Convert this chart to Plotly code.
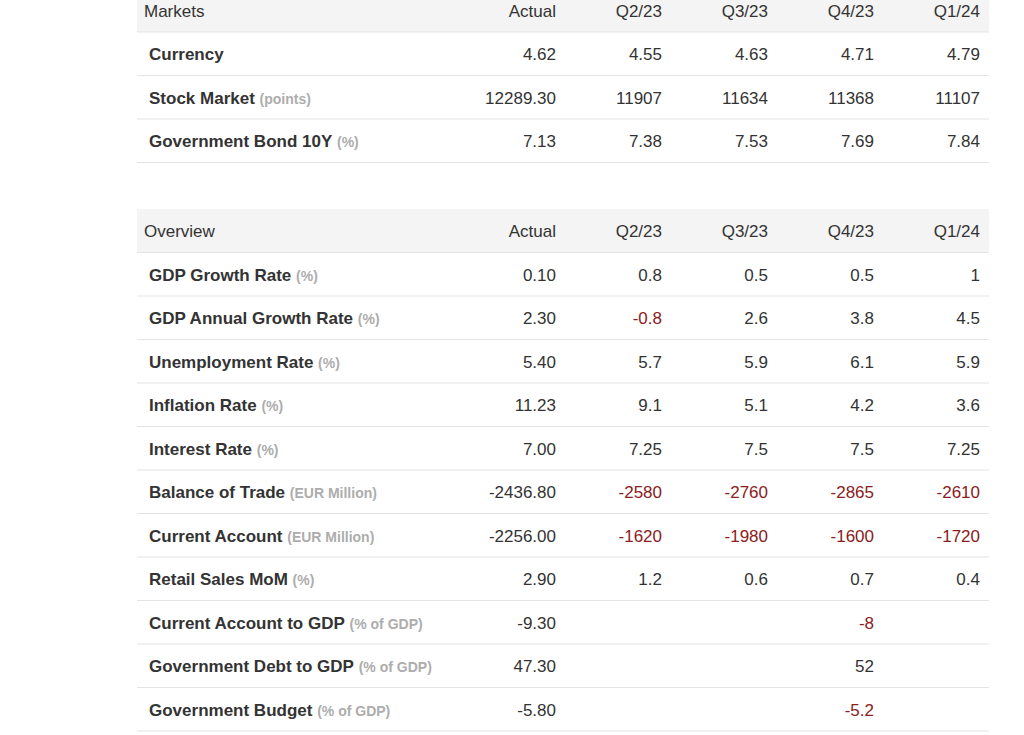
import plotly.graph_objects as go

# ---------------- data ----------------
col_headers = ["Actual", "Q2/23", "Q3/23", "Q4/23", "Q1/24"]

markets_title = "Markets"
markets_names = ["Currency", "Stock Market", "Government Bond 10Y"]
markets_units = ["", "points", "%"]
markets_actual = [4.62, 12289.30, 7.13]
markets_q2_23 = [4.55, 11907, 7.38]
markets_q3_23 = [4.63, 11634, 7.53]
markets_q4_23 = [4.71, 11368, 7.69]
markets_q1_24 = [4.79, 11107, 7.84]

overview_title = "Overview"
overview_names = ["GDP Growth Rate", "GDP Annual Growth Rate", "Unemployment Rate",
                  "Inflation Rate", "Interest Rate", "Balance of Trade", "Current Account",
                  "Retail Sales MoM", "Current Account to GDP", "Government Debt to GDP",
                  "Government Budget"]
overview_units = ["%", "%", "%", "%", "%", "EUR Million", "EUR Million", "%",
                  "% of GDP", "% of GDP", "% of GDP"]
overview_actual = [0.10, 2.30, 5.40, 11.23, 7.00, -2436.80, -2256.00, 2.90, -9.30, 47.30, -5.80]
overview_q2_23 = [0.8, -0.8, 5.7, 9.1, 7.25, -2580, -1620, 1.2, None, None, None]
overview_q3_23 = [0.5, 2.6, 5.9, 5.1, 7.5, -2760, -1980, 0.6, None, None, None]
overview_q4_23 = [0.5, 3.8, 6.1, 4.2, 7.5, -2865, -1600, 0.7, -8, 52, -5.2]
overview_q1_24 = [1, 4.5, 5.9, 3.6, 7.25, -2610, -1720, 0.4, None, None, None]

# ---------------- layout / style ----------------
W, H = 1024, 735
FONT = "Liberation Sans, Arial, Helvetica, sans-serif"
TXT = "#333333"
RED = "#8a2020"
UNIT = "#adadad"
HEAD_BG = "#f4f4f4"
LINE = "#e4e4e4"
X_LEFT, X_RIGHT = 137, 989
X_NAME, X_HEAD = 149, 144
COL_RIGHT = [556, 662, 768, 874, 980]
ROW_H = 43.5
TEXT_DY = 2
TABLE_TOPS = [-11.5, 209]

fig = go.Figure()
shapes = []


def fmt_actual(v):
    return f"{v:.2f}"


def fmt_fc(v):
    return "" if v is None else f"{v:g}"


def add_table(top, title, names, units, cols):
    n = len(names)
    # header background
    shapes.append(dict(type="rect", xref="x", yref="y", x0=X_LEFT, x1=X_RIGHT,
                       y0=top, y1=top + ROW_H, fillcolor=HEAD_BG, line_width=0, layer="below"))
    # row separators
    for i in range(n + 1):
        y = top + ROW_H * (i + 1)
        shapes.append(dict(type="line", xref="x", yref="y", x0=X_LEFT, x1=X_RIGHT,
                           y0=y, y1=y, line=dict(color=LINE, width=1.2), layer="below"))
    head_y = top + ROW_H / 2 + TEXT_DY
    row_y = [top + ROW_H * (i + 1.5) + TEXT_DY for i in range(n)]

    # header texts
    fig.add_trace(go.Scatter(x=[X_HEAD], y=[head_y], mode="text", text=[title],
                             textposition="middle right",
                             textfont=dict(family=FONT, size=17, color=TXT),
                             hoverinfo="skip", showlegend=False))
    fig.add_trace(go.Scatter(x=COL_RIGHT, y=[head_y] * len(COL_RIGHT), mode="text",
                             text=col_headers, textposition="middle left",
                             textfont=dict(family=FONT, size=17, color=TXT),
                             hoverinfo="skip", showlegend=False))
    # names
    labels = []
    for nm, u in zip(names, units):
        s = f"<b>{nm}</b>"
        if u:
            s += f" <span style='font-size:14px;fill:{UNIT};font-weight:bold'>({u})</span>"
        labels.append(s)
    fig.add_trace(go.Scatter(x=[X_NAME] * n, y=row_y, mode="text", text=labels,
                             textposition="middle right",
                             textfont=dict(family=FONT, size=17, color=TXT),
                             hoverinfo="skip", showlegend=False))
    # value columns
    for ci, vals in enumerate(cols):
        if ci == 0:
            texts = [fmt_actual(v) for v in vals]
            colors = [TXT] * n
        else:
            texts = [fmt_fc(v) for v in vals]
            colors = [RED if (v is not None and v < 0) else TXT for v in vals]
        fig.add_trace(go.Scatter(x=[COL_RIGHT[ci]] * n, y=row_y, mode="text", text=texts,
                                 textposition="middle left",
                                 textfont=dict(family=FONT, size=17, color=colors),
                                 hoverinfo="skip", showlegend=False))


add_table(TABLE_TOPS[0], markets_title, markets_names, markets_units,
          [markets_actual, markets_q2_23, markets_q3_23, markets_q4_23, markets_q1_24])
add_table(TABLE_TOPS[1], overview_title, overview_names, overview_units,
          [overview_actual, overview_q2_23, overview_q3_23, overview_q4_23, overview_q1_24])

fig.update_layout(
    width=W, height=H,
    margin=dict(l=0, r=0, t=0, b=0),
    paper_bgcolor="white", plot_bgcolor="white",
    xaxis=dict(range=[0, W], visible=False, fixedrange=True),
    yaxis=dict(range=[H, 0], visible=False, fixedrange=True),
    shapes=shapes,
    showlegend=False,
)

fig.write_html(
    "out.html",
    config={"displayModeBar": False},
    post_script="document.body.style.margin='0px';document.body.style.overflow='hidden';",
)
